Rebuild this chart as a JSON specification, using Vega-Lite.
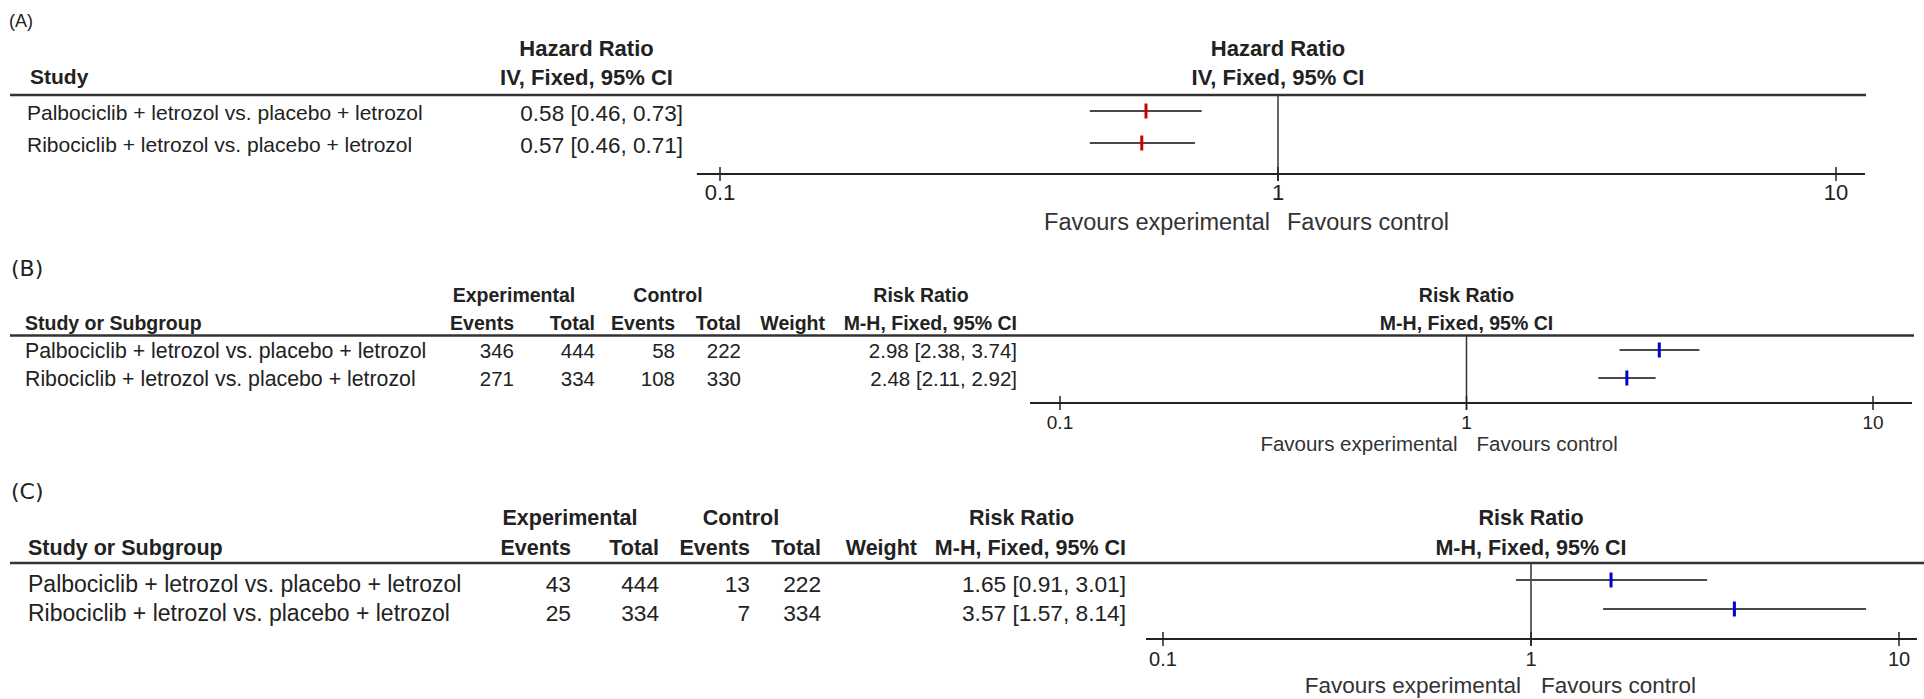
{
"$schema": "https://vega.github.io/schema/vega-lite/v6.json",
"padding": 0,
"background": "white",
"config": {"view": {"stroke": null}, "text": {"font": "Liberation Sans", "color": "#222222", "baseline": "middle"}, "rule": {"color": "#333333"}},
"datasets": {
 "A": [
  {"row": 1, "study": "Palbociclib + letrozol vs. placebo + letrozol", "est": 0.58, "lo": 0.46, "hi": 0.73, "ci": "0.58 [0.46, 0.73]"},
  {"row": 2, "study": "Ribociclib + letrozol vs. placebo + letrozol", "est": 0.57, "lo": 0.46, "hi": 0.71, "ci": "0.57 [0.46, 0.71]"}
 ],
 "B": [
  {"row": 1, "study": "Palbociclib + letrozol vs. placebo + letrozol", "ee": 346, "et": 444, "ce": 58, "ct": 222, "est": 2.98, "lo": 2.38, "hi": 3.74, "ci": "2.98 [2.38, 3.74]"},
  {"row": 2, "study": "Ribociclib + letrozol vs. placebo + letrozol", "ee": 271, "et": 334, "ce": 108, "ct": 330, "est": 2.48, "lo": 2.11, "hi": 2.92, "ci": "2.48 [2.11, 2.92]"}
 ],
 "C": [
  {"row": 1, "study": "Palbociclib + letrozol vs. placebo + letrozol", "ee": 43, "et": 444, "ce": 13, "ct": 222, "est": 1.65, "lo": 0.91, "hi": 3.01, "ci": "1.65 [0.91, 3.01]"},
  {"row": 2, "study": "Ribociclib + letrozol vs. placebo + letrozol", "ee": 25, "et": 334, "ce": 7, "ct": 334, "est": 3.57, "lo": 1.57, "hi": 8.14, "ci": "3.57 [1.57, 8.14]"}
 ],
 "ticks": [{"t": 0.1, "lab": "0.1"}, {"t": 1, "lab": "1"}, {"t": 10, "lab": "10"}],
 "one": [{}]
},
"spacing": 0,
"vconcat": [
 {"spacing": 0, "bounds": "flush", "hconcat": [
  {"width": 10, "height": 240, "data": {"name": "one"},
   "mark": {"type": "text", "text": "(A)", "align": "left", "dx": 9, "fontSize": 18},
   "encoding": {"x": {"value": 0}, "y": {"datum": -1.78, "type": "quantitative", "scale": {"domain": [-2.46875, 5.03125], "reverse": true, "nice": false, "zero": false}, "axis": null}}},
  {"width": 480, "height": 240, "layer": [
   {"data": {"name": "one"}, "mark": {"type": "text", "text": "Study", "align": "left", "dx": 20, "fontSize": 21, "fontWeight": "bold"},
    "encoding": {"x": {"value": 0}, "y": {"datum": -0.03, "type": "quantitative", "scale": {"domain": [-2.46875, 5.03125], "reverse": true, "nice": false, "zero": false}, "axis": null}}},
   {"data": {"name": "A"}, "mark": {"type": "text", "align": "left", "dx": 17, "dy": 3, "fontSize": 21},
    "encoding": {"x": {"value": 0}, "y": {"field": "row", "type": "quantitative", "scale": {"domain": [-2.46875, 5.03125], "reverse": true, "nice": false, "zero": false}, "axis": null}, "text": {"field": "study"}}},
   {"data": {"name": "one"}, "mark": {"type": "rule", "strokeWidth": 2.5},
    "encoding": {"x": {"value": 0}, "x2": {"value": "width"}, "y": {"datum": 0.5, "type": "quantitative", "scale": {"domain": [-2.46875, 5.03125], "reverse": true, "nice": false, "zero": false}, "axis": null}}}
  ]},
  {"width": 193, "height": 240, "layer": [
   {"data": {"name": "one"}, "mark": {"type": "text", "text": "Hazard Ratio", "align": "center", "fontSize": 22, "fontWeight": "bold"},
    "encoding": {"x": {"datum": "c", "type": "nominal", "scale": {"type": "point"}, "axis": null}, "y": {"datum": -0.9375, "type": "quantitative", "scale": {"domain": [-2.46875, 5.03125], "reverse": true, "nice": false, "zero": false}, "axis": null}}},
   {"data": {"name": "one"}, "mark": {"type": "text", "text": "IV, Fixed, 95% CI", "align": "center", "fontSize": 22, "fontWeight": "bold"},
    "encoding": {"x": {"datum": "c", "type": "nominal", "scale": {"type": "point"}, "axis": null}, "y": {"datum": -0.03, "type": "quantitative", "scale": {"domain": [-2.46875, 5.03125], "reverse": true, "nice": false, "zero": false}, "axis": null}}},
   {"data": {"name": "A"}, "mark": {"type": "text", "align": "right", "dy": 3, "fontSize": 22.5},
    "encoding": {"x": {"value": "width"}, "y": {"field": "row", "type": "quantitative", "scale": {"domain": [-2.46875, 5.03125], "reverse": true, "nice": false, "zero": false}, "axis": null}, "text": {"field": "ci"}}},
   {"data": {"name": "one"}, "mark": {"type": "rule", "strokeWidth": 2.5},
    "encoding": {"x": {"value": 0}, "x2": {"value": "width"}, "y": {"datum": 0.5, "type": "quantitative", "scale": {"domain": [-2.46875, 5.03125], "reverse": true, "nice": false, "zero": false}, "axis": null}}}
  ]},
  {"width": 1183, "height": 240, "layer": [
   {"data": {"name": "one"}, "mark": {"type": "text", "text": "Hazard Ratio", "align": "center", "fontSize": 22, "fontWeight": "bold"},
    "encoding": {"x": {"datum": 1, "type": "quantitative", "scale": {"type": "log", "domain": [0.1, 10], "range": [37, 1153]}, "axis": null}, "y": {"datum": -0.9375, "type": "quantitative", "scale": {"domain": [-2.46875, 5.03125], "reverse": true, "nice": false, "zero": false}, "axis": null}}},
   {"data": {"name": "one"}, "mark": {"type": "text", "text": "IV, Fixed, 95% CI", "align": "center", "fontSize": 22, "fontWeight": "bold"},
    "encoding": {"x": {"datum": 1, "type": "quantitative", "scale": {"type": "log", "domain": [0.1, 10], "range": [37, 1153]}, "axis": null}, "y": {"datum": -0.03, "type": "quantitative", "scale": {"domain": [-2.46875, 5.03125], "reverse": true, "nice": false, "zero": false}, "axis": null}}},
   {"data": {"name": "one"}, "mark": {"type": "rule", "strokeWidth": 2.5},
    "encoding": {"x": {"value": 0}, "x2": {"value": "width"}, "y": {"datum": 0.5, "type": "quantitative", "scale": {"domain": [-2.46875, 5.03125], "reverse": true, "nice": false, "zero": false}, "axis": null}}},
   {"data": {"name": "one"}, "mark": {"type": "rule", "strokeWidth": 1.5},
    "encoding": {"x": {"datum": 1, "type": "quantitative", "scale": {"type": "log", "domain": [0.1, 10], "range": [37, 1153]}, "axis": null}, "y": {"datum": 0.5, "type": "quantitative", "scale": {"domain": [-2.46875, 5.03125], "reverse": true, "nice": false, "zero": false}, "axis": null}, "y2": {"datum": 3.19}}},
   {"data": {"name": "A"}, "mark": {"type": "rule", "strokeWidth": 2, "color": "#4a4a4a"},
    "encoding": {"x": {"field": "lo", "type": "quantitative", "scale": {"type": "log", "domain": [0.1, 10], "range": [37, 1153]}, "axis": null}, "x2": {"field": "hi"}, "y": {"field": "row", "type": "quantitative", "scale": {"domain": [-2.46875, 5.03125], "reverse": true, "nice": false, "zero": false}, "axis": null}}},
   {"data": {"name": "A"}, "mark": {"type": "tick", "orient": "vertical", "thickness": 3, "size": 15, "color": "#cc0000", "opacity": 1},
    "encoding": {"x": {"field": "est", "type": "quantitative", "scale": {"type": "log", "domain": [0.1, 10], "range": [37, 1153]}, "axis": null}, "y": {"field": "row", "type": "quantitative", "scale": {"domain": [-2.46875, 5.03125], "reverse": true, "nice": false, "zero": false}, "axis": null}}},
   {"data": {"name": "one"}, "mark": {"type": "rule", "strokeWidth": 2, "color": "#222222"},
    "encoding": {"x": {"datum": 0.0909, "type": "quantitative", "scale": {"type": "log", "domain": [0.1, 10], "range": [37, 1153]}, "axis": null}, "x2": {"datum": 11.27}, "y": {"datum": 2.97, "type": "quantitative", "scale": {"domain": [-2.46875, 5.03125], "reverse": true, "nice": false, "zero": false}, "axis": null}}},
   {"data": {"name": "ticks"}, "mark": {"type": "rule", "strokeWidth": 1.5, "color": "#222222"},
    "encoding": {"x": {"field": "t", "type": "quantitative", "scale": {"type": "log", "domain": [0.1, 10], "range": [37, 1153]}, "axis": null}, "y": {"datum": 2.75, "type": "quantitative", "scale": {"domain": [-2.46875, 5.03125], "reverse": true, "nice": false, "zero": false}, "axis": null}, "y2": {"datum": 3.19}}},
   {"data": {"name": "ticks"}, "mark": {"type": "text", "align": "center", "dy": 19, "fontSize": 22},
    "encoding": {"x": {"field": "t", "type": "quantitative", "scale": {"type": "log", "domain": [0.1, 10], "range": [37, 1153]}, "axis": null}, "y": {"datum": 2.97, "type": "quantitative", "scale": {"domain": [-2.46875, 5.03125], "reverse": true, "nice": false, "zero": false}, "axis": null}, "text": {"field": "lab"}}},
   {"data": {"name": "one"}, "mark": {"type": "text", "text": "Favours experimental", "align": "right", "dx": -8, "dy": 49, "fontSize": 23.5, "color": "#333333"},
    "encoding": {"x": {"datum": 1, "type": "quantitative", "scale": {"type": "log", "domain": [0.1, 10], "range": [37, 1153]}, "axis": null}, "y": {"datum": 2.97, "type": "quantitative", "scale": {"domain": [-2.46875, 5.03125], "reverse": true, "nice": false, "zero": false}, "axis": null}}},
   {"data": {"name": "one"}, "mark": {"type": "text", "text": "Favours control", "align": "left", "dx": 9, "dy": 49, "fontSize": 23.5, "color": "#333333"},
    "encoding": {"x": {"datum": 1, "type": "quantitative", "scale": {"type": "log", "domain": [0.1, 10], "range": [37, 1153]}, "axis": null}, "y": {"datum": 2.97, "type": "quantitative", "scale": {"domain": [-2.46875, 5.03125], "reverse": true, "nice": false, "zero": false}, "axis": null}}}
  ]}
 ]},
 {"spacing": 0, "bounds": "flush", "hconcat": [
  {"width": 10, "height": 224, "data": {"name": "one"},
   "mark": {"type": "text", "text": "(B)", "align": "left", "dx": 11, "fontSize": 22, "font": "DejaVu Sans"},
   "encoding": {"x": {"value": 0}, "y": {"datum": -1.893, "type": "quantitative", "scale": {"domain": [-2.9286, 5.0714], "reverse": true, "nice": false, "zero": false}, "axis": null}}},
  {"width": 430, "height": 224, "layer": [
   {"data": {"name": "one"}, "mark": {"type": "text", "text": "Study or Subgroup", "align": "left", "dx": 15, "fontSize": 19.5, "fontWeight": "bold"},
    "encoding": {"x": {"value": 0}, "y": {"datum": 0.0714, "type": "quantitative", "scale": {"domain": [-2.9286, 5.0714], "reverse": true, "nice": false, "zero": false}, "axis": null}}},
   {"data": {"name": "B"}, "mark": {"type": "text", "align": "left", "dx": 15, "dy": 2, "fontSize": 21.3},
    "encoding": {"x": {"value": 0}, "y": {"field": "row", "type": "quantitative", "scale": {"domain": [-2.9286, 5.0714], "reverse": true, "nice": false, "zero": false}, "axis": null}, "text": {"field": "study"}}},
   {"data": {"name": "one"}, "mark": {"type": "rule", "strokeWidth": 2.5},
    "encoding": {"x": {"value": 0}, "x2": {"value": "width"}, "y": {"datum": 0.482, "type": "quantitative", "scale": {"domain": [-2.9286, 5.0714], "reverse": true, "nice": false, "zero": false}, "axis": null}}}
  ]},
  {"width": 74, "height": 224, "layer": [
   {"data": {"name": "one"}, "mark": {"type": "text", "text": "Experimental", "align": "center", "fontSize": 19.5, "fontWeight": "bold"},
    "encoding": {"x": {"value": "width"}, "y": {"datum": -0.9286, "type": "quantitative", "scale": {"domain": [-2.9286, 5.0714], "reverse": true, "nice": false, "zero": false}, "axis": null}}},
   {"data": {"name": "one"}, "mark": {"type": "text", "text": "Events", "align": "right", "fontSize": 19.5, "fontWeight": "bold"},
    "encoding": {"x": {"value": "width"}, "y": {"datum": 0.0714, "type": "quantitative", "scale": {"domain": [-2.9286, 5.0714], "reverse": true, "nice": false, "zero": false}, "axis": null}}},
   {"data": {"name": "B"}, "mark": {"type": "text", "align": "right", "dy": 2, "fontSize": 20.5},
    "encoding": {"x": {"value": "width"}, "y": {"field": "row", "type": "quantitative", "scale": {"domain": [-2.9286, 5.0714], "reverse": true, "nice": false, "zero": false}, "axis": null}, "text": {"field": "ee", "type": "quantitative"}}},
   {"data": {"name": "one"}, "mark": {"type": "rule", "strokeWidth": 2.5},
    "encoding": {"x": {"value": 0}, "x2": {"value": "width"}, "y": {"datum": 0.482, "type": "quantitative", "scale": {"domain": [-2.9286, 5.0714], "reverse": true, "nice": false, "zero": false}, "axis": null}}}
  ]},
  {"width": 81, "height": 224, "layer": [
   {"data": {"name": "one"}, "mark": {"type": "text", "text": "Total", "align": "right", "fontSize": 19.5, "fontWeight": "bold"},
    "encoding": {"x": {"value": "width"}, "y": {"datum": 0.0714, "type": "quantitative", "scale": {"domain": [-2.9286, 5.0714], "reverse": true, "nice": false, "zero": false}, "axis": null}}},
   {"data": {"name": "B"}, "mark": {"type": "text", "align": "right", "dy": 2, "fontSize": 20.5},
    "encoding": {"x": {"value": "width"}, "y": {"field": "row", "type": "quantitative", "scale": {"domain": [-2.9286, 5.0714], "reverse": true, "nice": false, "zero": false}, "axis": null}, "text": {"field": "et", "type": "quantitative"}}},
   {"data": {"name": "one"}, "mark": {"type": "rule", "strokeWidth": 2.5},
    "encoding": {"x": {"value": 0}, "x2": {"value": "width"}, "y": {"datum": 0.482, "type": "quantitative", "scale": {"domain": [-2.9286, 5.0714], "reverse": true, "nice": false, "zero": false}, "axis": null}}}
  ]},
  {"width": 80, "height": 224, "layer": [
   {"data": {"name": "one"}, "mark": {"type": "text", "text": "Control", "align": "center", "dx": -7, "fontSize": 19.5, "fontWeight": "bold"},
    "encoding": {"x": {"value": "width"}, "y": {"datum": -0.9286, "type": "quantitative", "scale": {"domain": [-2.9286, 5.0714], "reverse": true, "nice": false, "zero": false}, "axis": null}}},
   {"data": {"name": "one"}, "mark": {"type": "text", "text": "Events", "align": "right", "fontSize": 19.5, "fontWeight": "bold"},
    "encoding": {"x": {"value": "width"}, "y": {"datum": 0.0714, "type": "quantitative", "scale": {"domain": [-2.9286, 5.0714], "reverse": true, "nice": false, "zero": false}, "axis": null}}},
   {"data": {"name": "B"}, "mark": {"type": "text", "align": "right", "dy": 2, "fontSize": 20.5},
    "encoding": {"x": {"value": "width"}, "y": {"field": "row", "type": "quantitative", "scale": {"domain": [-2.9286, 5.0714], "reverse": true, "nice": false, "zero": false}, "axis": null}, "text": {"field": "ce", "type": "quantitative"}}},
   {"data": {"name": "one"}, "mark": {"type": "rule", "strokeWidth": 2.5},
    "encoding": {"x": {"value": 0}, "x2": {"value": "width"}, "y": {"datum": 0.482, "type": "quantitative", "scale": {"domain": [-2.9286, 5.0714], "reverse": true, "nice": false, "zero": false}, "axis": null}}}
  ]},
  {"width": 66, "height": 224, "layer": [
   {"data": {"name": "one"}, "mark": {"type": "text", "text": "Total", "align": "right", "fontSize": 19.5, "fontWeight": "bold"},
    "encoding": {"x": {"value": "width"}, "y": {"datum": 0.0714, "type": "quantitative", "scale": {"domain": [-2.9286, 5.0714], "reverse": true, "nice": false, "zero": false}, "axis": null}}},
   {"data": {"name": "B"}, "mark": {"type": "text", "align": "right", "dy": 2, "fontSize": 20.5},
    "encoding": {"x": {"value": "width"}, "y": {"field": "row", "type": "quantitative", "scale": {"domain": [-2.9286, 5.0714], "reverse": true, "nice": false, "zero": false}, "axis": null}, "text": {"field": "ct", "type": "quantitative"}}},
   {"data": {"name": "one"}, "mark": {"type": "rule", "strokeWidth": 2.5},
    "encoding": {"x": {"value": 0}, "x2": {"value": "width"}, "y": {"datum": 0.482, "type": "quantitative", "scale": {"domain": [-2.9286, 5.0714], "reverse": true, "nice": false, "zero": false}, "axis": null}}}
  ]},
  {"width": 84, "height": 224, "layer": [
   {"data": {"name": "one"}, "mark": {"type": "text", "text": "Weight", "align": "right", "fontSize": 19.5, "fontWeight": "bold"},
    "encoding": {"x": {"value": "width"}, "y": {"datum": 0.0714, "type": "quantitative", "scale": {"domain": [-2.9286, 5.0714], "reverse": true, "nice": false, "zero": false}, "axis": null}}},
   {"data": {"name": "one"}, "mark": {"type": "rule", "strokeWidth": 2.5},
    "encoding": {"x": {"value": 0}, "x2": {"value": "width"}, "y": {"datum": 0.482, "type": "quantitative", "scale": {"domain": [-2.9286, 5.0714], "reverse": true, "nice": false, "zero": false}, "axis": null}}}
  ]},
  {"width": 192, "height": 224, "layer": [
   {"data": {"name": "one"}, "mark": {"type": "text", "text": "Risk Ratio", "align": "center", "fontSize": 19.5, "fontWeight": "bold"},
    "encoding": {"x": {"datum": "c", "type": "nominal", "scale": {"type": "point"}, "axis": null}, "y": {"datum": -0.9286, "type": "quantitative", "scale": {"domain": [-2.9286, 5.0714], "reverse": true, "nice": false, "zero": false}, "axis": null}}},
   {"data": {"name": "one"}, "mark": {"type": "text", "text": "M-H, Fixed, 95% CI", "align": "right", "fontSize": 19.5, "fontWeight": "bold"},
    "encoding": {"x": {"value": "width"}, "y": {"datum": 0.0714, "type": "quantitative", "scale": {"domain": [-2.9286, 5.0714], "reverse": true, "nice": false, "zero": false}, "axis": null}}},
   {"data": {"name": "B"}, "mark": {"type": "text", "align": "right", "dy": 2, "fontSize": 20.5},
    "encoding": {"x": {"value": "width"}, "y": {"field": "row", "type": "quantitative", "scale": {"domain": [-2.9286, 5.0714], "reverse": true, "nice": false, "zero": false}, "axis": null}, "text": {"field": "ci"}}},
   {"data": {"name": "one"}, "mark": {"type": "rule", "strokeWidth": 2.5},
    "encoding": {"x": {"value": 0}, "x2": {"value": "width"}, "y": {"datum": 0.482, "type": "quantitative", "scale": {"domain": [-2.9286, 5.0714], "reverse": true, "nice": false, "zero": false}, "axis": null}}}
  ]},
  {"width": 897, "height": 224, "layer": [
   {"data": {"name": "one"}, "mark": {"type": "text", "text": "Risk Ratio", "align": "center", "fontSize": 19.5, "fontWeight": "bold"},
    "encoding": {"x": {"datum": 1, "type": "quantitative", "scale": {"type": "log", "domain": [0.1, 10], "range": [43, 856]}, "axis": null}, "y": {"datum": -0.9286, "type": "quantitative", "scale": {"domain": [-2.9286, 5.0714], "reverse": true, "nice": false, "zero": false}, "axis": null}}},
   {"data": {"name": "one"}, "mark": {"type": "text", "text": "M-H, Fixed, 95% CI", "align": "center", "fontSize": 19.5, "fontWeight": "bold"},
    "encoding": {"x": {"datum": 1, "type": "quantitative", "scale": {"type": "log", "domain": [0.1, 10], "range": [43, 856]}, "axis": null}, "y": {"datum": 0.0714, "type": "quantitative", "scale": {"domain": [-2.9286, 5.0714], "reverse": true, "nice": false, "zero": false}, "axis": null}}},
   {"data": {"name": "one"}, "mark": {"type": "rule", "strokeWidth": 2.5},
    "encoding": {"x": {"value": 0}, "x2": {"value": "width"}, "y": {"datum": 0.482, "type": "quantitative", "scale": {"domain": [-2.9286, 5.0714], "reverse": true, "nice": false, "zero": false}, "axis": null}}},
   {"data": {"name": "one"}, "mark": {"type": "rule", "strokeWidth": 1.5},
    "encoding": {"x": {"datum": 1, "type": "quantitative", "scale": {"type": "log", "domain": [0.1, 10], "range": [43, 856]}, "axis": null}, "y": {"datum": 0.482, "type": "quantitative", "scale": {"domain": [-2.9286, 5.0714], "reverse": true, "nice": false, "zero": false}, "axis": null}, "y2": {"datum": 3.143}}},
   {"data": {"name": "B"}, "mark": {"type": "rule", "strokeWidth": 2, "color": "#4a4a4a"},
    "encoding": {"x": {"field": "lo", "type": "quantitative", "scale": {"type": "log", "domain": [0.1, 10], "range": [43, 856]}, "axis": null}, "x2": {"field": "hi"}, "y": {"field": "row", "type": "quantitative", "scale": {"domain": [-2.9286, 5.0714], "reverse": true, "nice": false, "zero": false}, "axis": null}}},
   {"data": {"name": "B"}, "mark": {"type": "tick", "orient": "vertical", "thickness": 3, "size": 15, "color": "#0000cc", "opacity": 1},
    "encoding": {"x": {"field": "est", "type": "quantitative", "scale": {"type": "log", "domain": [0.1, 10], "range": [43, 856]}, "axis": null}, "y": {"field": "row", "type": "quantitative", "scale": {"domain": [-2.9286, 5.0714], "reverse": true, "nice": false, "zero": false}, "axis": null}}},
   {"data": {"name": "one"}, "mark": {"type": "rule", "strokeWidth": 2, "color": "#222222"},
    "encoding": {"x": {"datum": 0.0844, "type": "quantitative", "scale": {"type": "log", "domain": [0.1, 10], "range": [43, 856]}, "axis": null}, "x2": {"datum": 12.47}, "y": {"datum": 2.893, "type": "quantitative", "scale": {"domain": [-2.9286, 5.0714], "reverse": true, "nice": false, "zero": false}, "axis": null}}},
   {"data": {"name": "ticks"}, "mark": {"type": "rule", "strokeWidth": 1.5, "color": "#222222"},
    "encoding": {"x": {"field": "t", "type": "quantitative", "scale": {"type": "log", "domain": [0.1, 10], "range": [43, 856]}, "axis": null}, "y": {"datum": 2.643, "type": "quantitative", "scale": {"domain": [-2.9286, 5.0714], "reverse": true, "nice": false, "zero": false}, "axis": null}, "y2": {"datum": 3.143}}},
   {"data": {"name": "ticks"}, "mark": {"type": "text", "align": "center", "dy": 20, "fontSize": 19},
    "encoding": {"x": {"field": "t", "type": "quantitative", "scale": {"type": "log", "domain": [0.1, 10], "range": [43, 856]}, "axis": null}, "y": {"datum": 2.893, "type": "quantitative", "scale": {"domain": [-2.9286, 5.0714], "reverse": true, "nice": false, "zero": false}, "axis": null}, "text": {"field": "lab"}}},
   {"data": {"name": "one"}, "mark": {"type": "text", "text": "Favours experimental", "align": "right", "dx": -9, "dy": 42, "fontSize": 20.5, "color": "#333333"},
    "encoding": {"x": {"datum": 1, "type": "quantitative", "scale": {"type": "log", "domain": [0.1, 10], "range": [43, 856]}, "axis": null}, "y": {"datum": 2.893, "type": "quantitative", "scale": {"domain": [-2.9286, 5.0714], "reverse": true, "nice": false, "zero": false}, "axis": null}}},
   {"data": {"name": "one"}, "mark": {"type": "text", "text": "Favours control", "align": "left", "dx": 10, "dy": 42, "fontSize": 20.5, "color": "#333333"},
    "encoding": {"x": {"datum": 1, "type": "quantitative", "scale": {"type": "log", "domain": [0.1, 10], "range": [43, 856]}, "axis": null}, "y": {"datum": 2.893, "type": "quantitative", "scale": {"domain": [-2.9286, 5.0714], "reverse": true, "nice": false, "zero": false}, "axis": null}}}
  ]}
 ]},
 {"spacing": 0, "bounds": "flush", "hconcat": [
  {"width": 10, "height": 235, "data": {"name": "one"},
   "mark": {"type": "text", "text": "(C)", "align": "left", "dx": 11, "fontSize": 22, "font": "DejaVu Sans"},
   "encoding": {"x": {"value": 0}, "y": {"datum": -2.034, "type": "quantitative", "scale": {"domain": [-3, 5.1034], "reverse": true, "nice": false, "zero": false}, "axis": null}}},
  {"width": 470, "height": 235, "layer": [
   {"data": {"name": "one"}, "mark": {"type": "text", "text": "Study or Subgroup", "align": "left", "dx": 18, "fontSize": 21.5, "fontWeight": "bold"},
    "encoding": {"x": {"value": 0}, "y": {"datum": -0.069, "type": "quantitative", "scale": {"domain": [-3, 5.1034], "reverse": true, "nice": false, "zero": false}, "axis": null}}},
   {"data": {"name": "C"}, "mark": {"type": "text", "align": "left", "dx": 18, "dy": 5, "fontSize": 23},
    "encoding": {"x": {"value": 0}, "y": {"field": "row", "type": "quantitative", "scale": {"domain": [-3, 5.1034], "reverse": true, "nice": false, "zero": false}, "axis": null}, "text": {"field": "study"}}},
   {"data": {"name": "one"}, "mark": {"type": "rule", "strokeWidth": 2.5},
    "encoding": {"x": {"value": 0}, "x2": {"value": "width"}, "y": {"datum": 0.414, "type": "quantitative", "scale": {"domain": [-3, 5.1034], "reverse": true, "nice": false, "zero": false}, "axis": null}}}
  ]},
  {"width": 91, "height": 235, "layer": [
   {"data": {"name": "one"}, "mark": {"type": "text", "text": "Experimental", "align": "center", "dx": -1, "fontSize": 21.5, "fontWeight": "bold"},
    "encoding": {"x": {"value": "width"}, "y": {"datum": -1.103, "type": "quantitative", "scale": {"domain": [-3, 5.1034], "reverse": true, "nice": false, "zero": false}, "axis": null}}},
   {"data": {"name": "one"}, "mark": {"type": "text", "text": "Events", "align": "right", "fontSize": 21.5, "fontWeight": "bold"},
    "encoding": {"x": {"value": "width"}, "y": {"datum": -0.069, "type": "quantitative", "scale": {"domain": [-3, 5.1034], "reverse": true, "nice": false, "zero": false}, "axis": null}}},
   {"data": {"name": "C"}, "mark": {"type": "text", "align": "right", "dy": 5, "fontSize": 22.7},
    "encoding": {"x": {"value": "width"}, "y": {"field": "row", "type": "quantitative", "scale": {"domain": [-3, 5.1034], "reverse": true, "nice": false, "zero": false}, "axis": null}, "text": {"field": "ee", "type": "quantitative"}}},
   {"data": {"name": "one"}, "mark": {"type": "rule", "strokeWidth": 2.5},
    "encoding": {"x": {"value": 0}, "x2": {"value": "width"}, "y": {"datum": 0.414, "type": "quantitative", "scale": {"domain": [-3, 5.1034], "reverse": true, "nice": false, "zero": false}, "axis": null}}}
  ]},
  {"width": 88, "height": 235, "layer": [
   {"data": {"name": "one"}, "mark": {"type": "text", "text": "Total", "align": "right", "fontSize": 21.5, "fontWeight": "bold"},
    "encoding": {"x": {"value": "width"}, "y": {"datum": -0.069, "type": "quantitative", "scale": {"domain": [-3, 5.1034], "reverse": true, "nice": false, "zero": false}, "axis": null}}},
   {"data": {"name": "C"}, "mark": {"type": "text", "align": "right", "dy": 5, "fontSize": 22.7},
    "encoding": {"x": {"value": "width"}, "y": {"field": "row", "type": "quantitative", "scale": {"domain": [-3, 5.1034], "reverse": true, "nice": false, "zero": false}, "axis": null}, "text": {"field": "et", "type": "quantitative"}}},
   {"data": {"name": "one"}, "mark": {"type": "rule", "strokeWidth": 2.5},
    "encoding": {"x": {"value": 0}, "x2": {"value": "width"}, "y": {"datum": 0.414, "type": "quantitative", "scale": {"domain": [-3, 5.1034], "reverse": true, "nice": false, "zero": false}, "axis": null}}}
  ]},
  {"width": 91, "height": 235, "layer": [
   {"data": {"name": "one"}, "mark": {"type": "text", "text": "Control", "align": "center", "dx": -9, "fontSize": 21.5, "fontWeight": "bold"},
    "encoding": {"x": {"value": "width"}, "y": {"datum": -1.103, "type": "quantitative", "scale": {"domain": [-3, 5.1034], "reverse": true, "nice": false, "zero": false}, "axis": null}}},
   {"data": {"name": "one"}, "mark": {"type": "text", "text": "Events", "align": "right", "fontSize": 21.5, "fontWeight": "bold"},
    "encoding": {"x": {"value": "width"}, "y": {"datum": -0.069, "type": "quantitative", "scale": {"domain": [-3, 5.1034], "reverse": true, "nice": false, "zero": false}, "axis": null}}},
   {"data": {"name": "C"}, "mark": {"type": "text", "align": "right", "dy": 5, "fontSize": 22.7},
    "encoding": {"x": {"value": "width"}, "y": {"field": "row", "type": "quantitative", "scale": {"domain": [-3, 5.1034], "reverse": true, "nice": false, "zero": false}, "axis": null}, "text": {"field": "ce", "type": "quantitative"}}},
   {"data": {"name": "one"}, "mark": {"type": "rule", "strokeWidth": 2.5},
    "encoding": {"x": {"value": 0}, "x2": {"value": "width"}, "y": {"datum": 0.414, "type": "quantitative", "scale": {"domain": [-3, 5.1034], "reverse": true, "nice": false, "zero": false}, "axis": null}}}
  ]},
  {"width": 71, "height": 235, "layer": [
   {"data": {"name": "one"}, "mark": {"type": "text", "text": "Total", "align": "right", "fontSize": 21.5, "fontWeight": "bold"},
    "encoding": {"x": {"value": "width"}, "y": {"datum": -0.069, "type": "quantitative", "scale": {"domain": [-3, 5.1034], "reverse": true, "nice": false, "zero": false}, "axis": null}}},
   {"data": {"name": "C"}, "mark": {"type": "text", "align": "right", "dy": 5, "fontSize": 22.7},
    "encoding": {"x": {"value": "width"}, "y": {"field": "row", "type": "quantitative", "scale": {"domain": [-3, 5.1034], "reverse": true, "nice": false, "zero": false}, "axis": null}, "text": {"field": "ct", "type": "quantitative"}}},
   {"data": {"name": "one"}, "mark": {"type": "rule", "strokeWidth": 2.5},
    "encoding": {"x": {"value": 0}, "x2": {"value": "width"}, "y": {"datum": 0.414, "type": "quantitative", "scale": {"domain": [-3, 5.1034], "reverse": true, "nice": false, "zero": false}, "axis": null}}}
  ]},
  {"width": 96, "height": 235, "layer": [
   {"data": {"name": "one"}, "mark": {"type": "text", "text": "Weight", "align": "right", "fontSize": 21.5, "fontWeight": "bold"},
    "encoding": {"x": {"value": "width"}, "y": {"datum": -0.069, "type": "quantitative", "scale": {"domain": [-3, 5.1034], "reverse": true, "nice": false, "zero": false}, "axis": null}}},
   {"data": {"name": "one"}, "mark": {"type": "rule", "strokeWidth": 2.5},
    "encoding": {"x": {"value": 0}, "x2": {"value": "width"}, "y": {"datum": 0.414, "type": "quantitative", "scale": {"domain": [-3, 5.1034], "reverse": true, "nice": false, "zero": false}, "axis": null}}}
  ]},
  {"width": 209, "height": 235, "layer": [
   {"data": {"name": "one"}, "mark": {"type": "text", "text": "Risk Ratio", "align": "center", "fontSize": 21.5, "fontWeight": "bold"},
    "encoding": {"x": {"datum": "c", "type": "nominal", "scale": {"type": "point"}, "axis": null}, "y": {"datum": -1.103, "type": "quantitative", "scale": {"domain": [-3, 5.1034], "reverse": true, "nice": false, "zero": false}, "axis": null}}},
   {"data": {"name": "one"}, "mark": {"type": "text", "text": "M-H, Fixed, 95% CI", "align": "right", "fontSize": 21.5, "fontWeight": "bold"},
    "encoding": {"x": {"value": "width"}, "y": {"datum": -0.069, "type": "quantitative", "scale": {"domain": [-3, 5.1034], "reverse": true, "nice": false, "zero": false}, "axis": null}}},
   {"data": {"name": "C"}, "mark": {"type": "text", "align": "right", "dy": 5, "fontSize": 22.7},
    "encoding": {"x": {"value": "width"}, "y": {"field": "row", "type": "quantitative", "scale": {"domain": [-3, 5.1034], "reverse": true, "nice": false, "zero": false}, "axis": null}, "text": {"field": "ci"}}},
   {"data": {"name": "one"}, "mark": {"type": "rule", "strokeWidth": 2.5},
    "encoding": {"x": {"value": 0}, "x2": {"value": "width"}, "y": {"datum": 0.414, "type": "quantitative", "scale": {"domain": [-3, 5.1034], "reverse": true, "nice": false, "zero": false}, "axis": null}}}
  ]},
  {"width": 798, "height": 235, "layer": [
   {"data": {"name": "one"}, "mark": {"type": "text", "text": "Risk Ratio", "align": "center", "fontSize": 21.5, "fontWeight": "bold"},
    "encoding": {"x": {"datum": 1, "type": "quantitative", "scale": {"type": "log", "domain": [0.1, 10], "range": [37, 773]}, "axis": null}, "y": {"datum": -1.103, "type": "quantitative", "scale": {"domain": [-3, 5.1034], "reverse": true, "nice": false, "zero": false}, "axis": null}}},
   {"data": {"name": "one"}, "mark": {"type": "text", "text": "M-H, Fixed, 95% CI", "align": "center", "fontSize": 21.5, "fontWeight": "bold"},
    "encoding": {"x": {"datum": 1, "type": "quantitative", "scale": {"type": "log", "domain": [0.1, 10], "range": [37, 773]}, "axis": null}, "y": {"datum": -0.069, "type": "quantitative", "scale": {"domain": [-3, 5.1034], "reverse": true, "nice": false, "zero": false}, "axis": null}}},
   {"data": {"name": "one"}, "mark": {"type": "rule", "strokeWidth": 2.5},
    "encoding": {"x": {"value": 0}, "x2": {"value": "width"}, "y": {"datum": 0.414, "type": "quantitative", "scale": {"domain": [-3, 5.1034], "reverse": true, "nice": false, "zero": false}, "axis": null}}},
   {"data": {"name": "one"}, "mark": {"type": "rule", "strokeWidth": 1.5},
    "encoding": {"x": {"datum": 1, "type": "quantitative", "scale": {"type": "log", "domain": [0.1, 10], "range": [37, 773]}, "axis": null}, "y": {"datum": 0.414, "type": "quantitative", "scale": {"domain": [-3, 5.1034], "reverse": true, "nice": false, "zero": false}, "axis": null}, "y2": {"datum": 3.276}}},
   {"data": {"name": "C"}, "mark": {"type": "rule", "strokeWidth": 2, "color": "#4a4a4a"},
    "encoding": {"x": {"field": "lo", "type": "quantitative", "scale": {"type": "log", "domain": [0.1, 10], "range": [37, 773]}, "axis": null}, "x2": {"field": "hi"}, "y": {"field": "row", "type": "quantitative", "scale": {"domain": [-3, 5.1034], "reverse": true, "nice": false, "zero": false}, "axis": null}}},
   {"data": {"name": "C"}, "mark": {"type": "tick", "orient": "vertical", "thickness": 3, "size": 15, "color": "#0000cc", "opacity": 1},
    "encoding": {"x": {"field": "est", "type": "quantitative", "scale": {"type": "log", "domain": [0.1, 10], "range": [37, 773]}, "axis": null}, "y": {"field": "row", "type": "quantitative", "scale": {"domain": [-3, 5.1034], "reverse": true, "nice": false, "zero": false}, "axis": null}}},
   {"data": {"name": "one"}, "mark": {"type": "rule", "strokeWidth": 2, "color": "#222222"},
    "encoding": {"x": {"datum": 0.0899, "type": "quantitative", "scale": {"type": "log", "domain": [0.1, 10], "range": [37, 773]}, "axis": null}, "x2": {"datum": 11.19}, "y": {"datum": 3.034, "type": "quantitative", "scale": {"domain": [-3, 5.1034], "reverse": true, "nice": false, "zero": false}, "axis": null}}},
   {"data": {"name": "ticks"}, "mark": {"type": "rule", "strokeWidth": 1.5, "color": "#222222"},
    "encoding": {"x": {"field": "t", "type": "quantitative", "scale": {"type": "log", "domain": [0.1, 10], "range": [37, 773]}, "axis": null}, "y": {"datum": 2.793, "type": "quantitative", "scale": {"domain": [-3, 5.1034], "reverse": true, "nice": false, "zero": false}, "axis": null}, "y2": {"datum": 3.276}}},
   {"data": {"name": "ticks"}, "mark": {"type": "text", "align": "center", "dy": 21, "fontSize": 20},
    "encoding": {"x": {"field": "t", "type": "quantitative", "scale": {"type": "log", "domain": [0.1, 10], "range": [37, 773]}, "axis": null}, "y": {"datum": 3.034, "type": "quantitative", "scale": {"domain": [-3, 5.1034], "reverse": true, "nice": false, "zero": false}, "axis": null}, "text": {"field": "lab"}}},
   {"data": {"name": "one"}, "mark": {"type": "text", "text": "Favours experimental", "align": "right", "dx": -10, "dy": 47, "fontSize": 22.5, "color": "#333333"},
    "encoding": {"x": {"datum": 1, "type": "quantitative", "scale": {"type": "log", "domain": [0.1, 10], "range": [37, 773]}, "axis": null}, "y": {"datum": 3.034, "type": "quantitative", "scale": {"domain": [-3, 5.1034], "reverse": true, "nice": false, "zero": false}, "axis": null}}},
   {"data": {"name": "one"}, "mark": {"type": "text", "text": "Favours control", "align": "left", "dx": 10, "dy": 47, "fontSize": 22.5, "color": "#333333"},
    "encoding": {"x": {"datum": 1, "type": "quantitative", "scale": {"type": "log", "domain": [0.1, 10], "range": [37, 773]}, "axis": null}, "y": {"datum": 3.034, "type": "quantitative", "scale": {"domain": [-3, 5.1034], "reverse": true, "nice": false, "zero": false}, "axis": null}}}
  ]}
 ]}
]
}
